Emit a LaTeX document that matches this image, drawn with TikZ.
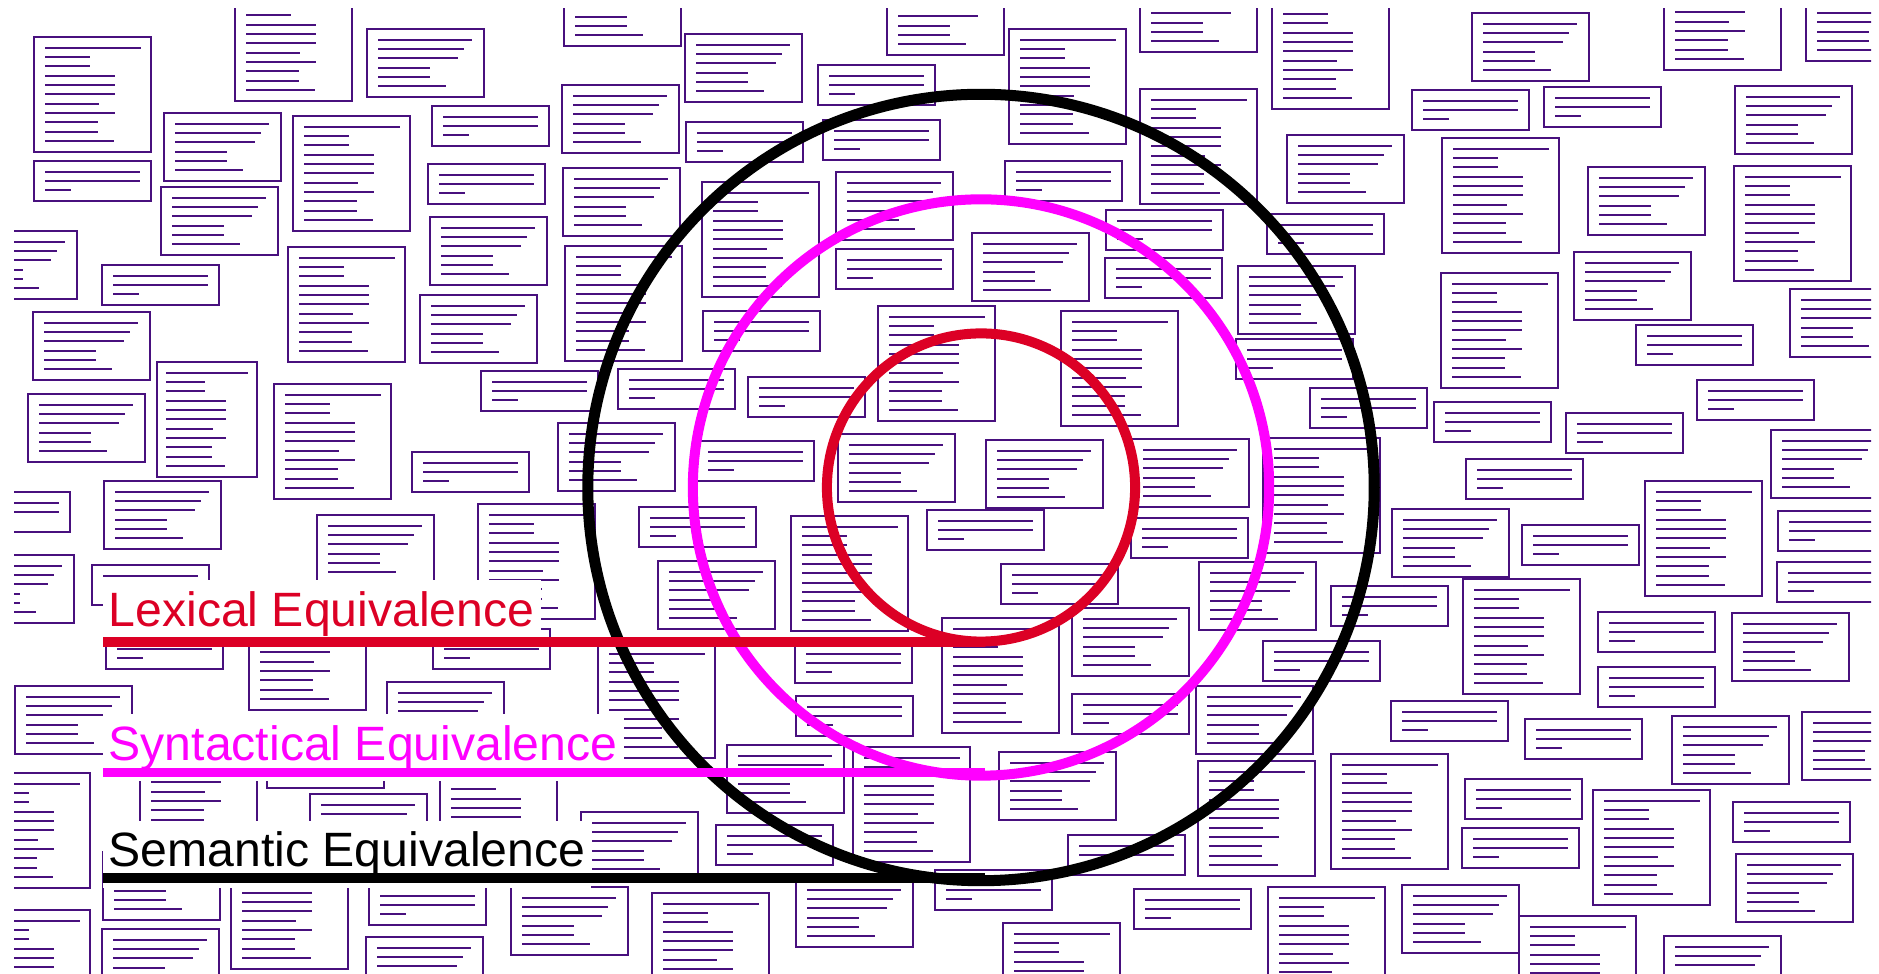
\documentclass[tikz,border=0pt]{standalone}
\usepackage{fontspec}
\setmainfont{Liberation Sans}
\usepackage{tikz}
\definecolor{docink}{HTML}{48107E}
\definecolor{lexred}{HTML}{DC0025}
\definecolor{synpink}{HTML}{FF00FF}

\begin{document}
\begin{tikzpicture}[x=0.01cm,y=-0.01cm,
  docbox/.style={draw=docink,fill=white,line width=0.021cm},
  docline/.style={draw=docink,line width=0.022cm},
  ring/.style={circle,inner sep=0pt,fill=none},
  lbl/.style={fill=white,inner xsep=0.06cm,inner ysep=0.11cm,anchor=base west,
              font=\fontsize{13.7pt}{16pt}\selectfont},
  docA/.pic={
    \draw[docbox] (0,0) rectangle (117,115);
    \foreach \e [count=\k from 0] in {107,56,56,81,81,81,65,81,64,64,80}
      {\draw[docline] (11,{10.7+9.33*\k}) -- (\e,{10.7+9.33*\k});}
  },
  docB/.pic={
    \draw[docbox] (0,0) rectangle (117,68);
    \foreach \e [count=\k from 0] in {105,97,91,63,63,79}
      {\draw[docline] (11,{10.7+9.33*\k}) -- (\e,{10.7+9.33*\k});}
  },
  docC/.pic={
    \draw[docbox] (0,0) rectangle (117,40);
    \foreach \e [count=\k from 0] in {106,106,37}
      {\draw[docline] (11,{10.7+9.33*\k}) -- (\e,{10.7+9.33*\k});}
  }
]
\useasboundingbox (0,0) rectangle (1879,974);

\begin{scope}
\clip (14,9) rectangle (1871,974);
\foreach \x/\y in {34/37, 235/-14, 293/116, 288/247, 274/384, 1009/29, 1272/-6,
    1140/89, 702/182, 565/246, 878/306, 1061/311, 1263/438, 1664/-45, 1442/138,
    1734/166, 1441/273, 1645/481, 478/504, 791/516, 598/643, 249/595, 942/618,
    853/747, 1198/761, 1331/754, 1268/887, 1003/923, 1463/579, 1593/790,
    1519/916, 140/725, 440/760, -27/773, -27/910, 231/854, 652/893}
  {\pic at (\x,\y) {docA};}
\pic[xscale=0.855] at (157,362) {docA};
\foreach \x/\y in {367/29, 164/113, 161/187, -40/231, 430/217, 33/312, 420/295,
    28/394, 104/481, 564/-22, 685/34, 887/-13, 562/85, 563/168, 836/172, 558/423,
    838/434, 1140/-16, 1287/135, 972/233, 1238/266, 986/440, 1132/439, 1472/13,
    1806/-7, 1735/86, 1588/167, 1574/252, 1790/289, 1771/430, 1392/509, 1732/613,
    1672/716, 1802/712, 1736/854, 1402/885, 1664/936, 658/561, 1199/562,
    1072/608, 1196/686, 999/752, 727/745, 387/682, 317/515, -43/555, 15/686,
    310/794, 103/852, 102/929, 366/937, 511/887, 796/879, 581/812}
  {\pic at (\x,\y) {docB};}
\foreach \x/\y in {34/161, 432/106, 428/164, 102/265, 412/452, 818/65, 686/122,
    823/120, 836/249, 703/311, 481/371, 618/369, 748/377, 697/441, 1005/161,
    1106/210, 1267/214, 1105/258, 1236/339, 1310/388, 1412/90, 1544/87, 1636/325,
    1434/402, 1566/413, 1697/380, 1466/459, 1522/525, 1778/511, 1777/562,
    1331/586, 1598/612, 1598/667, 1391/701, 1525/719, 1465/779, 1462/828,
    1733/802, 639/507, 927/510, 1131/518, 1001/564, 1263/641, 1072/694,
    1068/835, 935/870, 1134/889, 433/629, 795/643, 796/696, -47/492, 92/565,
    106/629, 267/748, 369/885, 716/825}
  {\pic at (\x,\y) {docC};}
\end{scope}

\coordinate (ctr) at (981,487.5);
\node[ring,draw=black,line width=0.11cm,minimum size=7.86cm] (semc) at (ctr) {};
\node[ring,draw=synpink,line width=0.10cm,minimum size=5.76cm] (sync) at (ctr) {};
\node[ring,draw=lexred,line width=0.10cm,minimum size=3.08cm] (lexc) at (ctr) {};

\node[lbl,text=lexred] (lex) at (102,626.3) {Lexical Equivalence};
\node[lbl,text=synpink] (syn) at (102,760.3) {Syntactical Equivalence};
\node[lbl,text=black] (sem) at (102,867) {Semantic Equivalence};

\coordinate (lexL) at (103,642);
\coordinate (synL) at (103,772.7);
\coordinate (semL) at (103,878);
\draw[lexred,line width=0.10cm] (lexL) -- ([xshift=0.04cm]lexL -| lexc.south);
\draw[synpink,line width=0.095cm] (synL) -- ([xshift=0.04cm]synL -| sync.south);
\draw[black,line width=0.107cm] (semL) -- ([xshift=0.04cm]semL -| semc.south);
\end{tikzpicture}
\end{document}
